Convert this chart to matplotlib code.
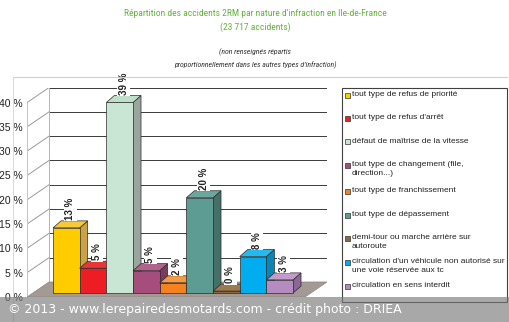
import matplotlib
matplotlib.use("Agg")
import matplotlib.pyplot as plt
from matplotlib import font_manager
from matplotlib.patches import Polygon, Rectangle
from matplotlib.lines import Line2D

# share of 2RM accidents per type of offence (%)
categories = [
    "tout type de refus de priorité",
    "tout type de refus d'arrêt",
    "défaut de maîtrise de la vitesse",
    "tout type de changement (file,\ndirection...)",
    "tout type de franchissement",
    "tout type de dépassement",
    "demi-tour ou marche arrière sur\nautoroute",
    "circulation d'un véhicule non autorisé sur\nune voie réservée aux tc",
    "circulation en sens interdit",
]
values = [13.4, 5.1, 39.2, 4.6, 2.1, 19.6, 0.4, 7.5, 2.7]
yticks = [0, 5, 10, 15, 20, 25, 30, 35, 40]
ytick_labels = [f"{t} %" for t in yticks]

front_colors = ["#FFCC00", "#EE1D23", "#C9E6D4", "#A64D7D", "#F5821F",
                "#5C9C93", "#8C6A3F", "#00AEEF", "#B48CC0"]
top_colors = ["#F5C93A", "#E83535", "#BFDFCB", "#B2628C", "#F59A45",
              "#6AA89F", "#9B7A4E", "#25B9F0", "#C19CCC"]
side_colors = ["#C9A24A", "#B0282A", "#9AA59E", "#7A3C5C", "#C0621A",
               "#466F69", "#6B502E", "#0A86B5", "#8A6894"]

W, H = 510, 322
fig = plt.figure(figsize=(W / 100, H / 100), dpi=100)
fig.patch.set_facecolor("white")


def fx(px):
    return px / W


def fy(py):
    return 1 - py / H


installed = {f.name for f in font_manager.fontManager.ttflist}
narrow_pick = next((n for n in ["Liberation Sans Narrow", "DejaVu Sans Condensed",
                                "Roboto Condensed", "Open Sans Condensed"]
                    if n in installed), "Liberation Sans")
narrow = [narrow_pick, "DejaVu Sans"]
arial = ["Liberation Sans", "DejaVu Sans"]
title_size = 6.8 if narrow_pick != "Liberation Sans" else 6.3

# light outer frame of the chart area
fig.add_artist(Line2D([fx(13), fx(507)], [fy(77), fy(77)], color="#cfcfcf", lw=0.8))
fig.add_artist(Line2D([fx(13), fx(13)], [fy(77), fy(322)], color="#dcdcdc", lw=0.8))

# titles
fig.text(0.5, fy(14), "Répartition des accidents 2RM par nature d’infraction en Ile-de-France",
         ha="center", va="center", color="#66B040", fontsize=title_size, family=narrow)
fig.text(0.5, fy(27), "(23 717 accidents)", ha="center", va="center",
         color="#66B040", fontsize=title_size, family=narrow)
fig.text(0.5, fy(52), "(non renseignés répartis", ha="center", va="center",
         color="#333333", fontsize=5.6, style="italic", family=narrow)
fig.text(0.5, fy(65), "proportionnellement dans les autres types d’infraction)",
         ha="center", va="center", color="#333333", fontsize=5.6, style="italic",
         family=narrow)

# main 3d-looking chart, data units: one bar per unit on x, percent on y
ax = fig.add_axes([fx(27), fy(297), 300 / W, 209 / H])
x0, x1 = -1.475, 9.774
ax.set_xlim(x0, x1)
ax.set_ylim(0, 43.0)
for s in ax.spines.values():
    s.set_visible(False)
ax.set_xticks([])
ax.set_yticks(yticks)
ax.set_yticklabels(ytick_labels, family=arial, fontsize=7.5, color="#222222")
ax.tick_params(axis="y", length=0, pad=3)
ax.patch.set_alpha(0)

wdx, wdy = 0.825, 3.09    # wall depth offset
bdx, bdy = 0.30, 1.44     # bar depth offset
lift = 0.82               # bar front base above wall front base
ymax = yticks[-1]

# back wall
bx = x0 + wdx
ax.add_patch(Rectangle((bx, wdy), x1 - bx, ymax, facecolor="white",
                       edgecolor="none", zorder=1))
for t in yticks[1:]:
    ax.plot([bx, x1], [t + wdy, t + wdy], color="#3a3a3a", lw=0.7, zorder=2)
ax.plot([bx, bx], [wdy, ymax + wdy], color="#b5b5b5", lw=0.7, zorder=2)

# side wall
for t in yticks[1:]:
    ax.plot([x0, bx], [t, t + wdy], color="#9a9a9a", lw=0.7, zorder=2)
ax.plot([x0, x0], [0, ymax], color="#c4c4c4", lw=0.7, zorder=2)

# floor
ax.add_patch(Polygon([(x0, 0), (x1 - wdx, 0), (x1, wdy), (bx, wdy)],
                     closed=True, facecolor="#A39A96", edgecolor="#8d8480",
                     lw=0.5, zorder=3))

# bars, drawn left to right so each one covers its neighbour's side face
xs = list(range(len(values)))
for i, v in enumerate(values):
    left, right = i - 0.5, i + 0.5
    top = lift + v
    side = Polygon([(right, lift), (right + bdx, lift + bdy),
                    (right + bdx, top + bdy), (right, top)],
                   closed=True, facecolor=side_colors[i], edgecolor="#2a2a2a",
                   lw=0.5, zorder=4 + i)
    roof = Polygon([(left, top), (right, top), (right + bdx, top + bdy),
                    (left + bdx, top + bdy)],
                   closed=True, facecolor=top_colors[i], edgecolor="#2a2a2a",
                   lw=0.5, zorder=4 + i)
    ax.add_patch(side)
    ax.add_patch(roof)
    ax.bar(xs[i], v, width=1.0, bottom=lift, color=front_colors[i],
           edgecolor="#2a2a2a", linewidth=0.5, zorder=4 + i)

# value labels
for i, v in enumerate(values):
    ax.text(xs[i] + bdx / 2, lift + v + bdy + 0.2, f"{v:.0f} %", rotation=90,
            ha="center", va="bottom", fontsize=7, fontweight="bold",
            family=arial, color="#222222", zorder=20, clip_on=False,
            bbox=dict(boxstyle="square,pad=0.15", facecolor="white",
                      edgecolor="none"))

# legend box
fig.add_artist(Rectangle((fx(342), fy(302)), fx(507) - fx(342), fy(88) - fy(302),
                         transform=fig.transFigure, facecolor="white",
                         edgecolor="#404040", lw=0.8))
line_y = [95, 118, 142, 165, 191, 215, 238, 262, 286]
for i, label in enumerate(categories):
    cy = line_y[i]
    fig.add_artist(Rectangle((fx(345), fy(cy + 2.5)), 5 / W, 5 / H,
                             transform=fig.transFigure,
                             facecolor=front_colors[i], edgecolor="#333333", lw=0.5))
    fig.text(fx(352), fy(cy - 4), label, ha="left", va="top",
             fontsize=6, family=arial, color="#222222", linespacing=1.45)

# watermark band
fig.add_artist(Rectangle((0, 0), 1, 25 / H, transform=fig.transFigure,
                         facecolor="#7a7a7a", alpha=0.65, edgecolor="none", zorder=50))
fig.text(fx(8), fy(310), "© 2013 - www.lerepairedesmotards.com - crédit photo : DRIEA",
         ha="left", va="center", color="white", fontsize=9, family=["DejaVu Sans"],
         zorder=51)

fig.savefig("out.png", dpi=100, facecolor="white")
